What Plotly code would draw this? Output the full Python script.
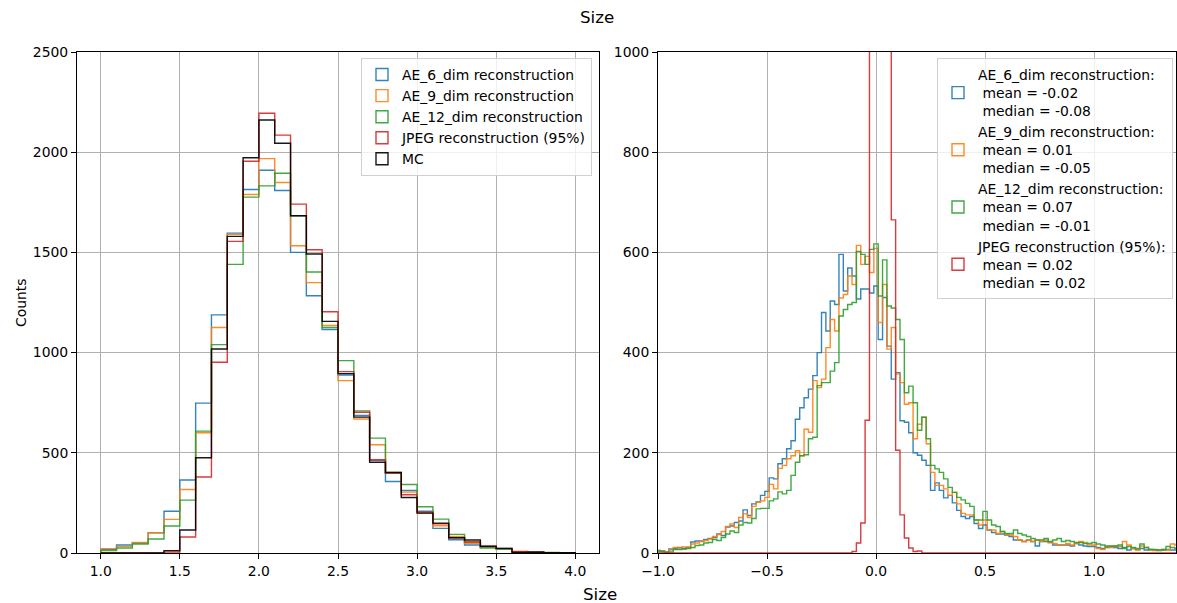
import numpy as np
import plotly.graph_objects as go

# ---------------- data ----------------
# Left panel: histogram of Size, bins of 0.1 from 1.0 to 4.0
size_bin_start = 1.0
size_bin_width = 0.1
size_ae6 = [18, 40, 50, 101, 208, 364, 748, 1188, 1596, 1814, 1910, 1809, 1500, 1284, 1115,
            888, 686, 462, 357, 312, 208, 123, 66, 40, 28, 18, 6, 4, 2, 1]
size_ae9 = [22, 33, 53, 101, 168, 317, 600, 1125, 1590, 1789, 1968, 1849, 1533, 1349, 1135,
            860, 669, 540, 399, 304, 199, 136, 83, 48, 30, 20, 6, 4, 2, 1]
size_ae12 = [12, 25, 45, 70, 135, 264, 608, 1040, 1440, 1776, 1832, 1895, 1683, 1402, 1125,
             960, 709, 573, 402, 342, 231, 169, 93, 55, 25, 18, 6, 4, 3, 1]
size_jpeg = [0, 0, 0, 0, 5, 80, 379, 952, 1555, 1955, 2194, 2085, 1741, 1513, 1204,
             905, 702, 465, 399, 291, 204, 146, 76, 55, 35, 23, 8, 5, 2, 1]
size_mc = [0, 0, 0, 0, 12, 115, 475, 1018, 1580, 1972, 2161, 2045, 1683, 1492, 1156,
           895, 678, 453, 402, 277, 199, 149, 76, 65, 33, 23, 3, 4, 2, 1]

# Right panel: histogram of relative difference, bins of 0.02 starting at -1.01
diff_bin_start = -1.01
diff_bin_width = 0.02
diff_ae6 = [5, 4, 2, 8, 9, 11, 9, 11, 22, 24, 24, 27, 29, 31, 38, 35, 52, 54, 61, 64,
            86, 75, 98, 102, 115, 123, 150, 148, 178,
            188, 208, 224, 267, 290, 310, 327, 354, 400, 480, 443, 503, 496, 596, 523,
            569, 553, 507, 527, 527, 519, 533, 426, 510, 413, 347, 360, 264, 261, 240,
            200, 195, 185, 175, 125, 140, 125, 110, 115, 100, 85,
            73, 69, 73, 59, 49, 56, 46, 41, 38, 38, 36, 33, 26, 26, 23, 26, 23, 14, 23, 23,
            21, 16, 16, 16, 16, 14, 19, 16, 14, 13, 13, 11, 9, 11, 13, 11, 9, 11, 6, 9,
            7, 9, 6, 7, 6, 5, 6, 7, 6, 6]
diff_ae9 = [5, 3, 2, 6, 11, 10, 12, 12, 18, 20, 23, 25, 28, 33, 37, 43, 53, 58, 51, 71,
            78, 71, 93, 101, 104, 111, 137, 128, 169,
            175, 188, 194, 204, 194, 247, 241, 344, 330, 347, 410, 466, 443, 509, 516,
            553, 536, 614, 576, 592, 560, 608, 460, 536, 407, 450, 357, 340, 297, 300,
            228, 257, 271, 218, 161, 135, 135, 128, 115, 121, 98,
            79, 76, 76, 66, 56, 66, 46, 46, 39, 43, 36, 36, 33, 26, 23, 26, 23, 26, 23, 26,
            21, 19, 16, 16, 19, 16, 19, 23, 21, 16, 16, 9, 7, 13, 11, 14, 13, 23, 16, 9,
            6, 14, 11, 6, 5, 6, 7, 6, 18, 16]
diff_ae12 = [4, 3, 1, 2, 7, 7, 8, 9, 11, 15, 16, 20, 21, 27, 25, 31, 38, 44, 41, 56,
             61, 60, 69, 88, 89, 89, 104, 108, 122,
             118, 125, 155, 181, 194, 196, 228, 231, 334, 340, 340, 363, 380, 473, 486,
             496, 500, 602, 596, 576, 606, 617, 513, 585, 493, 489, 466, 426, 320, 333,
             300, 245, 271, 228, 175, 168, 161, 148, 131, 121, 111,
             106, 99, 93, 66, 66, 83, 66, 56, 53, 43, 39, 39, 46, 39, 36, 33, 29, 26, 26, 29,
             23, 26, 29, 23, 25, 23, 21, 21, 19, 19, 21, 18, 16, 14, 14, 14, 16, 9, 13, 11,
             9, 18, 11, 7, 7, 6, 7, 13, 11, 9]
# JPEG peak bins exceed the 1000 y-limit (clipped in the reference); tall values estimated
diff_jpeg = ([0] * 45 +
             [3, 20, 60, 265, 2400, 4300, 5100, 4300, 2500, 665, 205, 76, 30, 10, 3, 4] +
             [0] * 59)

names_left = ["AE_6_dim reconstruction", "AE_9_dim reconstruction",
              "AE_12_dim reconstruction", "JPEG reconstruction (95%)", "MC"]
names_right = ["AE_6_dim reconstruction:<br>\u00a0mean = -0.02<br>\u00a0median = -0.08",
               "AE_9_dim reconstruction:<br>\u00a0mean = 0.01<br>\u00a0median = -0.05",
               "AE_12_dim reconstruction:<br>\u00a0mean = 0.07<br>\u00a0median = -0.01",
               "JPEG reconstruction (95%):<br>\u00a0mean = 0.02<br>\u00a0median = 0.02"]
colors = ["#1f77b4", "#ff7f0e", "#2ca02c", "#d62728", "#000000"]

FONT = "DejaVu Sans"
FS = 13.9
LW = 1.4


def edges(start, width, n):
    return np.round(start + width * np.arange(n + 1), 4)


def step_xy(e, counts):
    x = [e[0]] + list(e[:-1]) + [e[-1]]
    y = [0] + list(counts) + [0]
    return x, y


fig = go.Figure()

# left panel
left_series = [size_ae6, size_ae9, size_ae12, size_jpeg, size_mc]
e_left = edges(size_bin_start, size_bin_width, len(size_mc))
for name, col, vals in zip(names_left, colors, left_series):
    x, y = step_xy(e_left, vals)
    fig.add_trace(go.Scatter(x=x, y=y, mode="lines", line=dict(color=col, width=LW, shape="hv"),
                             opacity=0.9, showlegend=False, xaxis="x", yaxis="y"))
    fig.add_trace(go.Bar(x=[None], y=[None], name=name, xaxis="x", yaxis="y",
                         marker=dict(color="rgba(0,0,0,0)", line=dict(color=col, width=LW)),
                         opacity=0.9, legend="legend"))

# right panel
right_series = [diff_ae6, diff_ae9, diff_ae12, diff_jpeg]
e_right = edges(diff_bin_start, diff_bin_width, len(diff_ae6))
for name, col, vals in zip(names_right, colors, right_series):
    x, y = step_xy(e_right, vals)
    fig.add_trace(go.Scatter(x=x, y=y, mode="lines", line=dict(color=col, width=LW, shape="hv"),
                             opacity=0.9, showlegend=False, xaxis="x2", yaxis="y2"))
    fig.add_trace(go.Bar(x=[None], y=[None], name=name, xaxis="x2", yaxis="y2",
                         marker=dict(color="rgba(0,0,0,0)", line=dict(color=col, width=LW)),
                         opacity=0.9, legend="legend2"))

axis_common = dict(showline=True, mirror=True, linecolor="black", linewidth=1,
                   ticks="outside", ticklen=5, tickcolor="black",
                   showgrid=True, gridcolor="#b0b0b0", gridwidth=0.8, zeroline=False,
                   tickfont=dict(family=FONT, size=FS, color="black"))

W, H = 1177, 603
ML, MR, MT, MB = 77, 1, 52, 50
pw = W - ML - MR
ph = H - MT - MB


def px(xpix):
    return (xpix - ML) / pw


def py(ypix):
    return 1 - (ypix - MT) / ph


fig.update_layout(
    width=W, height=H,
    margin=dict(l=ML, r=MR, t=MT, b=MB),
    paper_bgcolor="white", plot_bgcolor="white",
    font=dict(family=FONT, size=FS, color="black"),
    barmode="overlay",
    xaxis=dict(domain=[0, px(599)], range=[0.85, 4.15], tickvals=[1.0, 1.5, 2.0, 2.5, 3.0, 3.5, 4.0],
               tickformat=".1f", anchor="y", **axis_common),
    yaxis=dict(domain=[0, 1], range=[0, 2500], tickvals=[0, 500, 1000, 1500, 2000, 2500],
               anchor="x", **axis_common),
    xaxis2=dict(domain=[px(658), 1], range=[-1.0, 1.376], tickvals=[-1.0, -0.5, 0.0, 0.5, 1.0],
                tickformat=".1f", anchor="y2", **axis_common),
    yaxis2=dict(domain=[0, 1], range=[0, 1000], tickvals=[0, 200, 400, 600, 800, 1000],
                anchor="x2", **axis_common),
    legend=dict(x=px(592), y=py(58), xanchor="right", yanchor="top",
                bgcolor="rgba(255,255,255,0.8)", bordercolor="#d0d0d0", borderwidth=1,
                font=dict(family=FONT, size=FS, color="black")),
    legend2=dict(x=px(1173), y=py(58), xanchor="right", yanchor="top",
                 bgcolor="rgba(255,255,255,0.8)", bordercolor="#d0d0d0", borderwidth=1,
                 font=dict(family=FONT, size=FS, color="black")),
    annotations=[
        dict(text="Size", x=px(597), y=py(17), xref="paper", yref="paper", showarrow=False,
             font=dict(family=FONT, size=16.7, color="black"), xanchor="center", yanchor="middle"),
        dict(text="Size", x=px(600), y=py(594), xref="paper", yref="paper", showarrow=False,
             font=dict(family=FONT, size=16.7, color="black"), xanchor="center", yanchor="middle"),
        dict(text="Counts", x=px(21), y=py(303), xref="paper", yref="paper", showarrow=False,
             textangle=-90, font=dict(family=FONT, size=FS, color="black"),
             xanchor="center", yanchor="middle"),
    ],
)

fig.write_html("out.html", config={"displayModeBar": False},
               post_script="document.body.style.margin='0';document.body.style.overflow='hidden';")
